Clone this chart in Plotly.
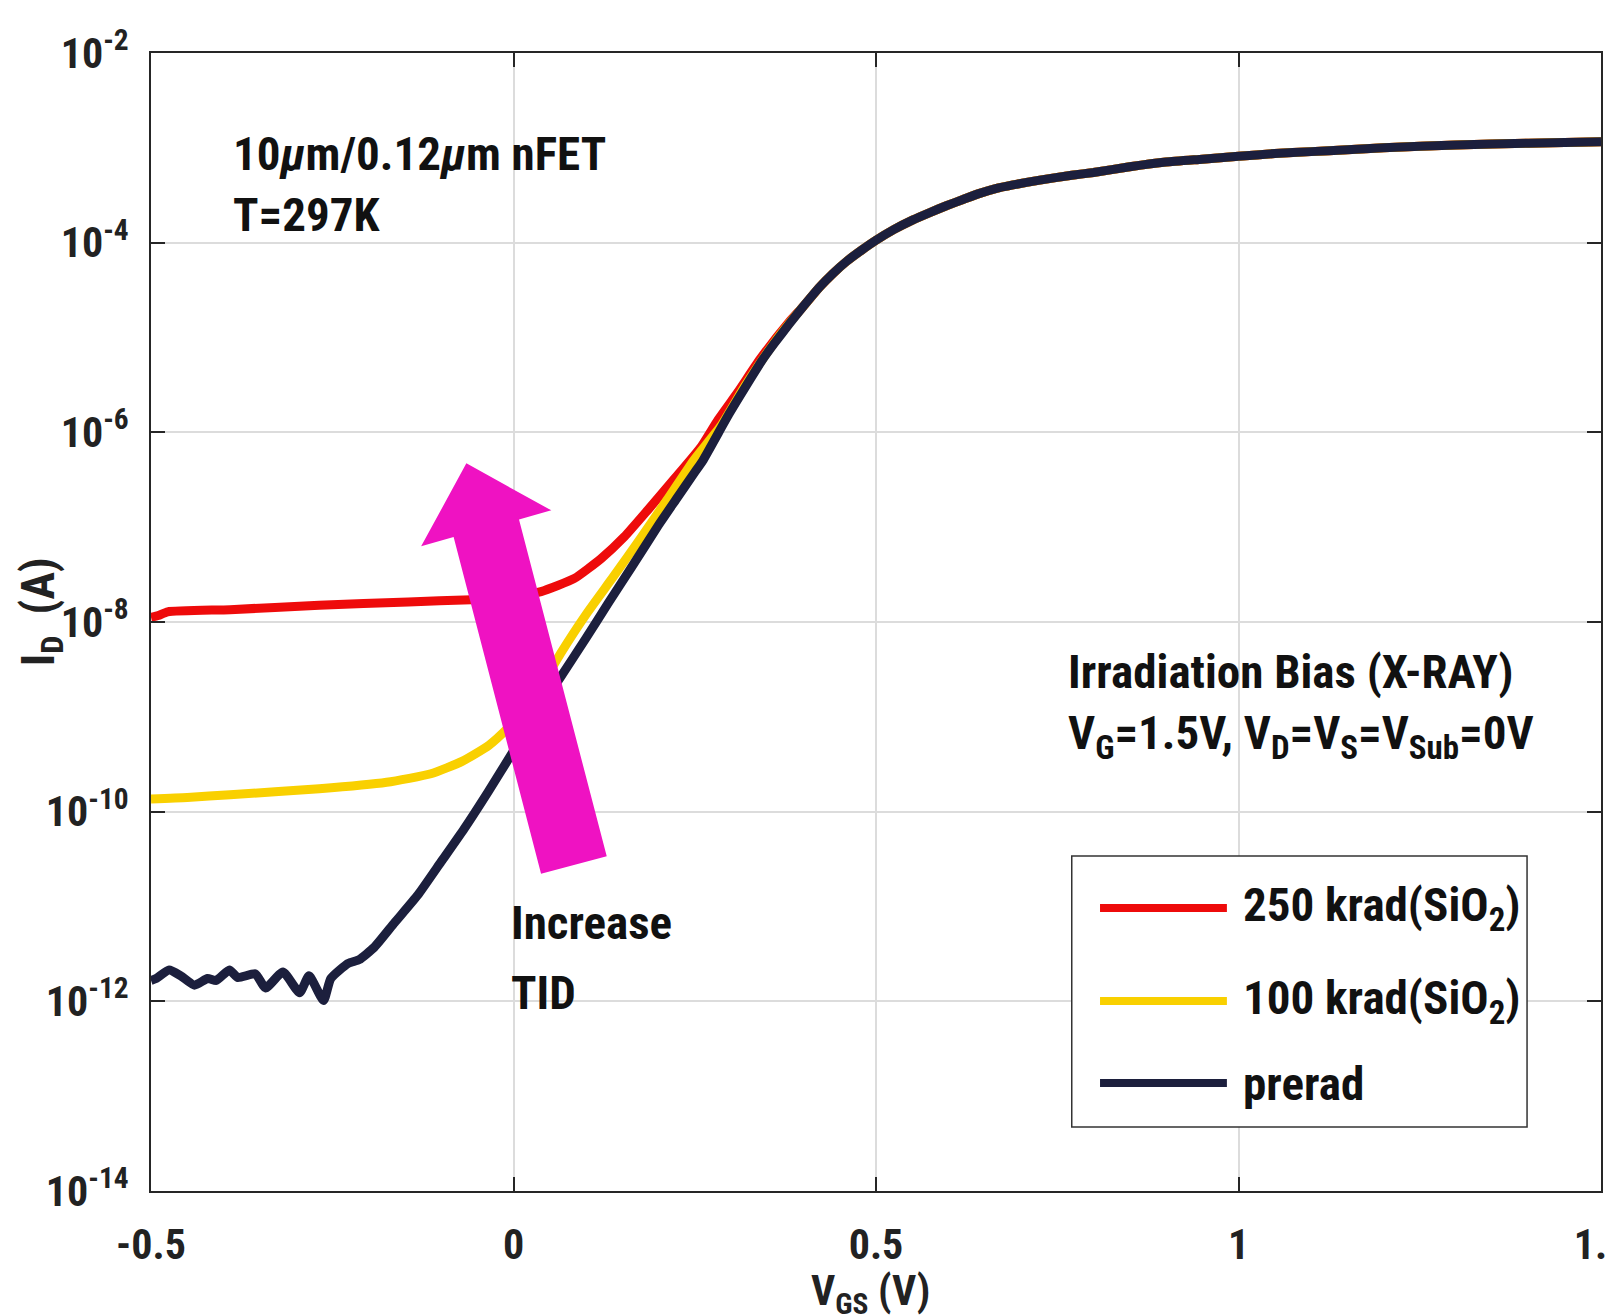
import plotly.graph_objects as go

# ---- transfer characteristics I_D(V_GS) of a 10um/0.12um nFET ----
# on-state branch shared by all three dose levels (curves coincide above ~0.4 V)
vgs_on = [0.40, 0.422, 0.44, 0.459, 0.48, 0.50, 0.525, 0.551, 0.575, 0.597,
          0.62, 0.643, 0.665, 0.689, 0.726, 0.77, 0.80, 0.85, 0.90, 0.95,
          1.0, 1.05, 1.1, 1.15, 1.2, 1.3, 1.4, 1.5]
id_on = [2.14e-5, 3.39e-5, 4.68e-5, 6.31e-5, 8.32e-5, 1.06e-4, 1.38e-4, 1.74e-4, 2.09e-4, 2.45e-4,
         2.85e-4, 3.31e-4, 3.72e-4, 4.07e-4, 4.57e-4, 5.13e-4, 5.50e-4, 6.31e-4, 7.08e-4, 7.59e-4,
         8.13e-4, 8.71e-4, 9.12e-4, 9.55e-4, 1.0e-3, 1.07e-3, 1.12e-3, 1.16e-3]

vgs_pre = [-0.5, -0.493, -0.475, -0.459, -0.44, -0.422, -0.41, -0.392, -0.38, -0.356,
           -0.342, -0.318, -0.295, -0.282, -0.262, -0.252, -0.228, -0.213, -0.192, -0.164,
           -0.132, -0.1, -0.068, -0.035, 0.0, 0.03, 0.065, 0.1, 0.13, 0.163,
           0.2, 0.224, 0.25, 0.261, 0.297, 0.32, 0.343, 0.36, 0.38]
id_pre = [1.66e-12, 1.74e-12, 2.14e-12, 1.86e-12, 1.48e-12, 1.74e-12, 1.66e-12, 2.14e-12, 1.78e-12, 1.95e-12,
          1.38e-12, 2.04e-12, 1.23e-12, 1.86e-12, 1.02e-12, 1.74e-12, 2.51e-12, 2.75e-12, 3.72e-12, 6.76e-12,
          1.32e-11, 2.95e-11, 6.61e-11, 1.62e-10, 4.37e-10, 1.05e-9, 2.63e-9, 6.76e-9, 1.55e-8, 3.80e-8,
          1.05e-7, 1.95e-7, 3.80e-7, 5.01e-7, 1.55e-6, 3.02e-6, 5.75e-6, 8.71e-6, 1.38e-5]

vgs_100k = [-0.5, -0.45, -0.391, -0.268, -0.175, -0.114, -0.071, -0.034, -0.008, 0.028,
            0.065, 0.101, 0.138, 0.175, 0.212, 0.249, 0.286, 0.32, 0.36, 0.38]
id_100k = [1.36e-10, 1.41e-10, 1.51e-10, 1.74e-10, 2.04e-10, 2.51e-10, 3.39e-10, 5.01e-10, 7.59e-10, 1.58e-9,
           4.68e-9, 1.23e-8, 3.02e-8, 7.59e-8, 1.95e-7, 5.13e-7, 1.17e-6, 3.16e-6, 8.9e-6, 1.40e-5]

vgs_250k = [-0.5, -0.49, -0.477, -0.391, -0.268, -0.145, -0.058, 0.0, 0.038, 0.084,
            0.121, 0.153, 0.185, 0.222, 0.259, 0.282, 0.31, 0.34, 0.38]
id_250k = [1.12e-8, 1.17e-8, 1.28e-8, 1.35e-8, 1.50e-8, 1.63e-8, 1.72e-8, 1.82e-8, 2.09e-8, 2.88e-8,
           4.68e-8, 7.94e-8, 1.51e-7, 3.24e-7, 7.08e-7, 1.35e-6, 2.69e-6, 5.9e-6, 1.45e-5]

series = [
    ("250 krad(SiO<sub>2</sub>)", vgs_250k, id_250k, "#ee0b0b"),
    ("100 krad(SiO<sub>2</sub>)", vgs_100k, id_100k, "#f9d000"),
    ("prerad", vgs_pre, id_pre, "#1c1f3d"),
]

x_ticks = [-0.5, 0, 0.5, 1, 1.5]
x_ticklabels = ["-0.5", "0", "0.5", "1", "1.5"]
y_ticks = [1e-14, 1e-12, 1e-10, 1e-8, 1e-6, 1e-4, 1e-2]
y_ticklabels = ["10<sup>-14</sup>", "10<sup>-12</sup>", "10<sup>-10</sup>", "10<sup>-8</sup>",
                "10<sup>-6</sup>", "10<sup>-4</sup>", "10<sup>-2</sup>"]

FONT = "Roboto Condensed, DejaVu Sans Condensed, Liberation Sans, sans-serif"

fig = go.Figure()
for name, xs, ys, color in series:
    fig.add_trace(go.Scatter(x=xs + vgs_on, y=ys + id_on, mode="lines", name=name, showlegend=False,
                             line=dict(color=color, width=9, shape="spline", smoothing=0.5)))

axis_common = dict(showline=True, linecolor="#262626", linewidth=2, mirror="ticks",
                   ticks="inside", ticklen=14, tickwidth=2, tickcolor="#262626",
                   showgrid=True, gridcolor="#dcdcdc", gridwidth=1.5, zeroline=False,
                   automargin=False, ticklabeloverflow="allow",
                   tickfont=dict(family=FONT, size=42, color="#222222", weight="bold"))

fig.update_layout(
    width=1607, height=1316,
    margin=dict(l=151, r=6, t=53, b=125, autoexpand=False),
    paper_bgcolor="white", plot_bgcolor="white",
    xaxis=dict(range=[-0.5, 1.5], tickvals=x_ticks, ticktext=x_ticklabels,
               ticklabelstandoff=16, **axis_common),
    yaxis=dict(type="log", range=[-14, -2], tickvals=y_ticks, ticktext=y_ticklabels,
               ticklabelstandoff=12, **axis_common),
)

txt = dict(family=FONT, size=47, color="#111111", weight="bold")

# arrow marking the direction of increasing total ionizing dose
arrow = [(0.2175, 0.6394), (0.2761, 0.5981), (0.2538, 0.5900), (0.3143, 0.2941),
         (0.2690, 0.2788), (0.2087, 0.5747), (0.1863, 0.5665)]
path = "M " + " L ".join(f"{px},{py}" for px, py in arrow) + " Z"
fig.add_shape(type="path", path=path, xref="x domain", yref="y domain",
              fillcolor="#ef12c2", line=dict(width=0), layer="above")

fig.add_annotation(x=0.055, y=0.938, xref="paper", yref="paper", xanchor="left", yanchor="top",
                   align="left", showarrow=False, font=txt,
                   text="10<i>μ</i>m/0.12<i>μ</i>m nFET<br>T=297K")
fig.add_annotation(x=0.247, y=0.262, xref="paper", yref="paper", xanchor="left", yanchor="top",
                   showarrow=False, font=txt, text="Increase")
fig.add_annotation(x=0.247, y=0.200, xref="paper", yref="paper", xanchor="left", yanchor="top",
                   showarrow=False, font=txt, text="TID")
fig.add_annotation(x=0.631, y=0.482, xref="paper", yref="paper", xanchor="left", yanchor="top",
                   align="left", showarrow=False, font=txt,
                   text="Irradiation Bias (X-RAY)<br>V<sub>G</sub>=1.5V, V<sub>D</sub>=V<sub>S</sub>=V<sub>Sub</sub>=0V")

# legend box drawn with long line samples
fig.add_shape(type="rect", xref="paper", yref="paper", x0=0.635, x1=0.949, y0=0.0562, y1=0.2944,
              fillcolor="white", line=dict(color="#333333", width=1.5), layer="above")
legend_rows = [0.2487, 0.167, 0.0949]
for (name, _, _, color), ly in zip(series, legend_rows):
    fig.add_shape(type="line", xref="paper", yref="paper", x0=0.6545, x1=0.742, y0=ly, y1=ly,
                  line=dict(color=color, width=8), layer="above")
    fig.add_annotation(x=0.752, y=ly, xref="paper", yref="paper", xanchor="left", yanchor="middle",
                       showarrow=False, font=txt, text=name)

# axis titles
fig.add_annotation(x=-0.0755, y=0.509, xref="paper", yref="paper", xanchor="center", yanchor="middle",
                   textangle=-90, showarrow=False,
                   font=dict(family=FONT, size=46, color="#222222", weight="bold"),
                   text="I<sub>D</sub>  (A)")
fig.add_annotation(x=0.496, y=-0.064, xref="paper", yref="paper", xanchor="center", yanchor="top",
                   showarrow=False,
                   font=dict(family=FONT, size=42, color="#222222", weight="bold"),
                   text="V<sub>GS</sub> (V)")

fig.write_html("out.html")
